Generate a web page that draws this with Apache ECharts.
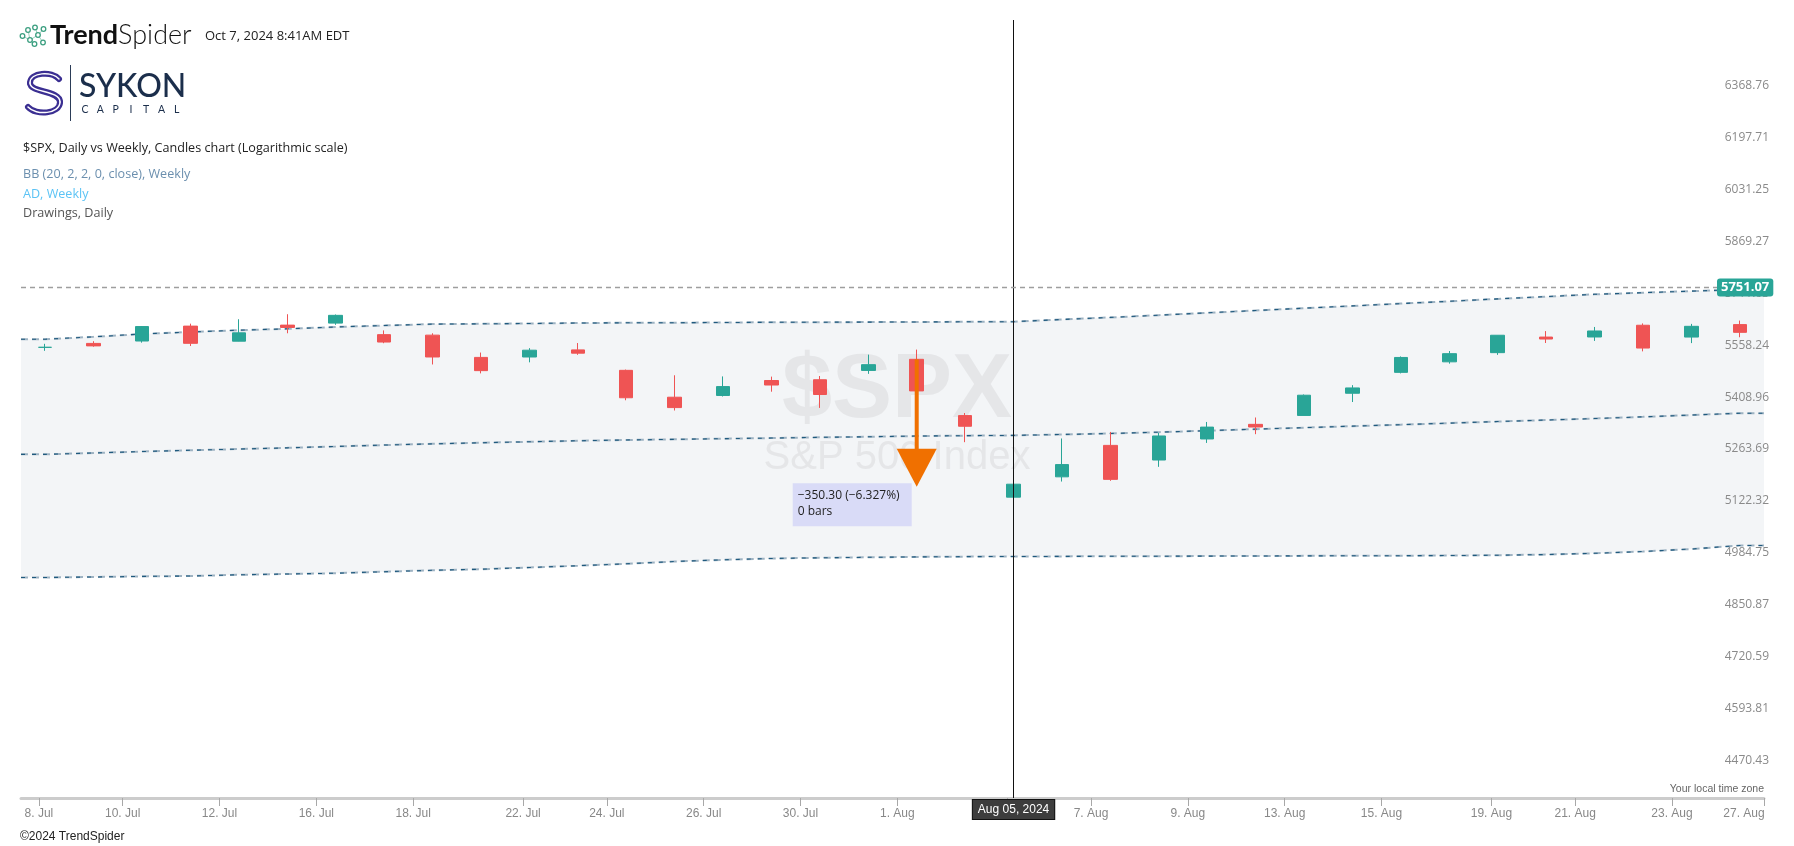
<!DOCTYPE html>
<html>
<head>
<meta charset="utf-8">
<script src="https://cdn.jsdelivr.net/npm/echarts@6/dist/echarts.min.js"></script>
<style>
html,body{margin:0;padding:0;background:#ffffff;}
#chart{width:1794px;height:846px;}
</style>
</head>
<body>
<div id="chart"></div>
<script>
// ---------- DATA ----------
const dates = ['2024-07-08','2024-07-09','2024-07-10','2024-07-11','2024-07-12','2024-07-15','2024-07-16','2024-07-17','2024-07-18','2024-07-19',
  '2024-07-22','2024-07-23','2024-07-24','2024-07-25','2024-07-26','2024-07-29','2024-07-30','2024-07-31','2024-08-01','2024-08-02',
  '2024-08-05','2024-08-06','2024-08-07','2024-08-08','2024-08-09','2024-08-12','2024-08-13','2024-08-14','2024-08-15','2024-08-16',
  '2024-08-19','2024-08-20','2024-08-21','2024-08-22','2024-08-23','2024-08-26'];
const openVals  = [5572.75,5584.24,5591.26,5635.21,5590.76,5638.16,5644.09,5610.07,5608.56,5543.37,
  5544.54,5565.30,5505.84,5428.70,5433.67,5476.55,5478.73,5505.59,5537.84,5376.63,
  5151.14,5206.42,5293.13,5252.57,5311.00,5351.88,5376.98,5440.00,5500.00,5530.50,
  5557.23,5602.88,5603.09,5637.77,5602.89,5639.66];
const highVals  = [5583.11,5590.75,5635.39,5642.45,5655.56,5670.49,5669.67,5622.49,5614.05,5557.50,
  5570.36,5585.34,5508.04,5491.59,5488.32,5487.74,5489.46,5551.51,5566.16,5383.89,
  5250.89,5312.34,5330.64,5328.03,5358.60,5371.20,5436.50,5463.22,5546.23,5561.98,
  5608.30,5620.51,5632.68,5643.22,5641.82,5651.62];
const lowVals   = [5562.51,5574.57,5586.44,5576.53,5590.44,5614.05,5639.02,5584.81,5522.81,5497.04,
  5529.04,5550.90,5419.98,5390.95,5430.70,5444.44,5398.30,5495.71,5410.42,5302.03,
  5119.26,5193.56,5195.54,5233.85,5300.00,5324.37,5376.98,5415.00,5497.00,5525.17,
  5550.74,5585.50,5591.57,5560.95,5585.16,5602.34];
const closeVals = [5572.85,5576.98,5633.91,5584.54,5615.35,5631.22,5667.20,5588.27,5544.59,5505.00,
  5564.41,5555.74,5427.13,5399.22,5459.10,5463.54,5436.44,5522.30,5446.68,5346.56,
  5186.33,5240.03,5199.50,5319.31,5344.16,5344.39,5434.43,5455.21,5543.22,5554.25,
  5608.25,5597.12,5620.85,5570.64,5634.61,5616.84];

const bbUpper  = [5596.5,5603.6,5611.9,5617.8,5623.1,5627.2,5632.6,5637.0,5641.1,5642.0,
  5642.9,5644.4,5645.0,5645.3,5645.9,5646.5,5646.8,5647.1,5647.4,5648.0,
  5648.3,5654.8,5661.0,5667.6,5674.7,5681.6,5688.4,5695.3,5702.2,5709.1,
  5716.3,5723.2,5730.1,5734.9,5739.7,5744.3];
const bbMiddle = [5268.2,5272.1,5276.0,5279.6,5282.9,5286.3,5290.1,5294.0,5297.4,5300.4,
  5303.2,5306.0,5308.2,5309.9,5311.8,5313.5,5315.5,5317.1,5319.1,5320.2,
  5321.0,5323.5,5326.3,5330.0,5334.2,5338.4,5342.6,5346.8,5351.0,5355.3,
  5359.8,5364.0,5368.2,5373.0,5378.1,5383.2];
const bbLower  = [4938.4,4939.7,4941.2,4942.3,4945.4,4947.5,4949.5,4953.4,4957.1,4959.9,
  4964.4,4969.0,4974.0,4980.0,4984.5,4987.9,4989.7,4991.0,4992.1,4992.8,
  4993.1,4993.4,4993.7,4993.9,4994.2,4994.5,4994.8,4995.0,4995.3,4995.6,
  4996.4,4998.3,5001.5,5006.2,5012.8,5022.0];

const yTickLabels = ['4470.43','4593.81','4720.59','4850.87','4984.75','5122.32','5263.69','5408.96','5558.24','5711.63','5869.27','6031.25','6197.71','6368.76'];
const xTickDates  = ['2024-07-08','2024-07-10','2024-07-12','2024-07-16','2024-07-18','2024-07-22','2024-07-24','2024-07-26','2024-07-30','2024-08-01',
  '2024-08-05','2024-08-07','2024-08-09','2024-08-13','2024-08-15','2024-08-19','2024-08-21','2024-08-23','2024-08-27'];
const xTickLabels = ['8. Jul','10. Jul','12. Jul','16. Jul','18. Jul','22. Jul','24. Jul','26. Jul','30. Jul','1. Aug',
  '5. Aug','7. Aug','9. Aug','13. Aug','15. Aug','19. Aug','21. Aug','23. Aug','27. Aug'];

const lastPrice = 5751.07;
const crosshairDate = '2024-08-05';
const crosshairLabel = 'Aug 05, 2024';
const measureDate = '2024-08-01';
const measureStart = 5537.84;
const measureEnd = 5187.54;
const measureText = ['\u2212350.30 (\u22126.327%)', '0 bars'];

const titleLines = ['$SPX, Daily vs Weekly, Candles chart (Logarithmic scale)', 'BB (20, 2, 2, 0, close), Weekly', 'AD, Weekly', 'Drawings, Daily'];
const timestampText = 'Oct 7, 2024 8:41AM EDT';

// ---------- SCALE (log) ----------
const Y_BASE = parseFloat(yTickLabels[0]);
const Y_STEP = Math.log(parseFloat(yTickLabels[yTickLabels.length - 1]) / Y_BASE) / (yTickLabels.length - 1);
const toAxis = p => Math.log(p / Y_BASE) / Y_STEP;

const UP = '#29a597', DOWN = '#ef5454';
const NARROW = '"Liberation Sans Narrow", "Arial Narrow", sans-serif';
const SANS = '"Open Sans", "Noto Sans", sans-serif';

const candleData = dates.map((d, i) => [openVals[i], closeVals[i], lowVals[i], highVals[i]].map(toAxis));

function extended(arr) {
  const pts = arr.map((v, i) => [i, toAxis(v)]);
  pts.unshift([-0.5, toAxis(arr[0])]);
  pts.push([arr.length - 0.5, toAxis(arr[arr.length - 1])]);
  return pts;
}
const lowerPts = extended(bbLower);
const upperPts = extended(bbUpper);
const middlePts = extended(bbMiddle);

const xMax = dates.length - 0.5;
const tickPos = xTickDates.map(d => {
  let i = dates.indexOf(d);
  if (i < 0) i = dates.length;
  const monday = new Date(d + 'T12:00:00Z').getUTCDay() === 1;
  return Math.min(i - (monday ? 0.13 : 0.40), xMax);
});
const tickMap = {};
tickPos.forEach((p, j) => { tickMap[p.toFixed(3)] = j; });

function bbLine(pts, color, width, dash, offset) {
  return {
    type: 'line', xAxisIndex: 1, yAxisIndex: 0, data: pts, symbol: 'none', silent: true, z: 3,
    lineStyle: { color: color, width: width, type: dash, dashOffset: offset || 0 },
    animation: false
  };
}
const bbSeries = [];
[upperPts, middlePts, lowerPts].forEach(pts => {
  bbSeries.push(bbLine(pts, '#9db2c2', 2, [7, 4], 0));
  bbSeries.push(bbLine(pts, '#1f5a7e', 1.1, [4, 7], 0));
});

// ---------- GRAPHIC (header / branding) ----------
const iconPts = [[22.5,36],[28,30],[30,40],[35,27.5],[38,35],[43.5,29],[43,42.5],[34.5,44]];
const iconLinks = [[0,2],[1,2],[2,4],[3,4],[4,5],[2,7],[4,6]];
const header = [];
iconLinks.forEach(l => header.push({ type: 'line', shape: { x1: iconPts[l[0]][0], y1: iconPts[l[0]][1], x2: iconPts[l[1]][0], y2: iconPts[l[1]][1] }, style: { stroke: '#7cc3ac', lineWidth: 0.8 }, z: 10 }));
iconPts.forEach(p => header.push({ type: 'circle', shape: { cx: p[0], cy: p[1], r: 2.3 }, style: { fill: '#fff', stroke: '#3c9f80', lineWidth: 1.3 }, z: 11 }));
header.push({ type: 'text', x: 50, y: 35.5, z: 10, style: { text: '{b|Trend}{r|Spider}', verticalAlign: 'middle', align: 'left',
  rich: { b: { fontFamily: 'Lato, sans-serif', fontSize: 27, fontWeight: 700, fill: '#111', color: '#111' }, r: { fontFamily: 'Lato, sans-serif', fontSize: 27, fontWeight: 300, fill: '#111', color: '#111' } } } });
header.push({ type: 'text', x: 205, y: 36, z: 10, style: { text: timestampText, fontFamily: SANS, fontSize: 13, fill: '#222', verticalAlign: 'middle' } });
const sSegs = [
  { x1: 59, y1: 79, cpx1: 52, cpy1: 71, cpx2: 30, cpy2: 72, x2: 30, y2: 83 },
  { x1: 30, y1: 83, cpx1: 30, cpy1: 93, cpx2: 60, cpy2: 90, x2: 60, y2: 102 },
  { x1: 60, y1: 102, cpx1: 60, cpy1: 114, cpx2: 36, cpy2: 116, x2: 28, y2: 107 }
];
sSegs.forEach(sg => header.push({ type: 'bezierCurve', z: 10, shape: sg, style: { fill: null, stroke: '#3b2f92', lineWidth: 6, lineCap: 'round' } }));
sSegs.forEach(sg => header.push({ type: 'bezierCurve', z: 11, shape: sg, style: { fill: null, stroke: '#ffffff', lineWidth: 1.5, lineCap: 'round' } }));
header.push({ type: 'line', z: 10, shape: { x1: 70.5, y1: 65, x2: 70.5, y2: 121 }, style: { stroke: '#2b3c57', lineWidth: 1 } });
header.push({ type: 'text', x: 79, y: 87, z: 10, style: { text: 'SYKON', fontFamily: 'Lato, sans-serif', fontSize: 32, fontWeight: 500, fill: '#1b2e4b', verticalAlign: 'middle' } });
'CAPITAL'.split('').forEach((ch, i) => header.push({ type: 'text', x: 85 + i * 15.3, y: 110, z: 10, style: { text: ch, fontFamily: 'Lato, sans-serif', fontSize: 10.5, fill: '#1b2e4b', align: 'center', verticalAlign: 'middle' } }));
const titleColors = ['#222222', '#6b8fae', '#5bc3f5', '#555555'];
const titleY = [148, 174.5, 194, 213.5];
titleLines.forEach((t, i) => header.push({ type: 'text', x: 23, y: titleY[i], z: 10, style: { text: t, fontFamily: SANS, fontSize: 12.6, fill: titleColors[i], verticalAlign: 'middle' } }));
header.push({ type: 'text', x: 897, y: 392, z: 2, silent: true, style: { text: '$SPX', fontFamily: '"Liberation Sans", Arial, sans-serif', fontWeight: 700, fontSize: 90, fill: '#e5e6e8', align: 'center', verticalAlign: 'middle' } });
header.push({ type: 'text', x: 897, y: 458, z: 2, silent: true, style: { text: 'S&P 500 Index', fontFamily: '"Liberation Sans", Arial, sans-serif', fontSize: 40, fill: '#e5e6e8', align: 'center', verticalAlign: 'middle' } });
header.push({ type: 'text', x: 1764, y: 795, z: 10, style: { text: 'Your local time zone', fontFamily: NARROW, fontSize: 10.5, fill: '#666', align: 'right', verticalAlign: 'bottom' } });
header.push({ type: 'text', x: 20, y: 837, z: 10, style: { text: '\u00a92024 TrendSpider', fontFamily: NARROW, fontSize: 12, fill: '#222', verticalAlign: 'middle' } });

// ---------- OPTION ----------
const option = {
  animation: false,
  backgroundColor: '#ffffff',
  grid: { left: 21, right: 30, top: 20, bottom: 48, containLabel: false },
  xAxis: [
    { type: 'category', data: dates, boundaryGap: true, show: false, gridIndex: 0 },
    { type: 'value', gridIndex: 0, min: -0.5, max: xMax, position: 'bottom',
      axisLine: { show: true, onZero: false, lineStyle: { color: '#cccccc', width: 3 } },
      axisTick: { show: true, customValues: tickPos, length: 8, lineStyle: { color: '#a8a8a8', width: 1 } },
      splitLine: { show: false },
      axisLabel: { show: true, customValues: tickPos, margin: 10, color: '#888888', fontFamily: NARROW, fontSize: 12,
        formatter: v => {
          const j = tickMap[Number(v).toFixed(3)];
          if (j == null) return '';
          return j === xTickLabels.length - 1 ? '{r|' + xTickLabels[j] + '}' : xTickLabels[j];
        },
        rich: { r: { padding: [0, 40, 0, 0], color: '#888888', fontFamily: NARROW, fontSize: 12 } } }
    }
  ],
  yAxis: [{
    type: 'value', position: 'right', min: -0.596, max: 14.409, z: 2,
    axisLine: { show: false, onZero: false }, axisTick: { show: false }, splitLine: { show: false },
    axisLabel: { show: true, inside: false, customValues: yTickLabels.map((t, i) => i), margin: 5, align: 'right',
      verticalAlign: 'bottom', lineHeight: 14, color: '#8a8a8a', fontFamily: SANS, fontSize: 12,
      formatter: v => yTickLabels[Math.round(v)] }
  }],
  graphic: { elements: header },
  series: [
    { type: 'custom', name: 'bbBand', xAxisIndex: 1, yAxisIndex: 0, z: 1, silent: true, clip: true,
      data: [[0, 0]],
      renderItem: (params, api) => {
        const pts = upperPts.map(p => api.coord(p)).concat(lowerPts.slice().reverse().map(p => api.coord(p)));
        return { type: 'polygon', shape: { points: pts }, style: { fill: '#f3f5f7' } };
      } },
    ...bbSeries,
    { type: 'line', name: 'crosshair', xAxisIndex: 0, yAxisIndex: 0, data: [], z: 3, silent: true,
      markLine: { silent: true, symbol: ['none', 'none'], animation: false,
        data: [{ xAxis: crosshairDate,
          lineStyle: { color: '#111111', width: 1, type: 'solid' },
          label: { show: true, position: 'start', distance: 2, formatter: crosshairLabel, color: '#ffffff',
            fontFamily: NARROW, fontSize: 12, backgroundColor: '#3d3d3d', borderColor: '#111', borderWidth: 1, padding: [4, 5, 3, 5] } }] } },
    { type: 'candlestick', name: '$SPX', xAxisIndex: 0, yAxisIndex: 0, data: candleData, barWidth: 14, z: 4, clip: false,
      itemStyle: { color: UP, color0: DOWN, borderColor: UP, borderColor0: DOWN, borderWidth: 1 } },
    { type: 'custom', name: 'measure', xAxisIndex: 1, yAxisIndex: 0, z: 5, clip: false, silent: true,
      data: [[dates.indexOf(measureDate), toAxis(measureStart), toAxis(measureEnd)]],
      renderItem: (params, api) => {
        const s = api.coord([api.value(0), api.value(1)]);
        const e = api.coord([api.value(0), api.value(2)]);
        const headH = 38, headW = 40, over = 3;
        const tipY = e[1] + over;
        return { type: 'group', children: [
          { type: 'rect', shape: { x: e[0] - 124, y: e[1] - 0.5, width: 119, height: 43 }, style: { fill: '#d9dbf7' } },
          { type: 'text', x: e[0] - 119, y: e[1] + 12, style: { text: measureText[0], fontFamily: SANS, fontSize: 12, fill: '#222', verticalAlign: 'middle' } },
          { type: 'text', x: e[0] - 119, y: e[1] + 27.5, style: { text: measureText[1], fontFamily: SANS, fontSize: 12, fill: '#222', verticalAlign: 'middle' } },
          { type: 'line', shape: { x1: s[0], y1: s[1], x2: s[0], y2: tipY - headH + 2 }, style: { stroke: '#f07000', lineWidth: 4 } },
          { type: 'polygon', shape: { points: [[e[0] - headW / 2, tipY - headH], [e[0] + headW / 2, tipY - headH], [e[0], tipY]] }, style: { fill: '#f07000' } }
        ] };
      } },
    { type: 'line', name: 'lastPrice', xAxisIndex: 0, yAxisIndex: 0, data: [], z: 6, silent: true,
      markLine: { silent: true, symbol: ['none', 'none'], animation: false,
        data: [{ yAxis: toAxis(lastPrice),
          lineStyle: { color: '#9e9e9e', width: 1.4, type: [5, 4] },
          label: { show: true, position: 'end', distance: -47, formatter: lastPrice.toFixed(2), color: '#ffffff',
            fontFamily: SANS, fontWeight: 700, fontSize: 13, backgroundColor: UP, borderRadius: 3, padding: [3, 4, 2, 4] } }] } }
  ]
};

const chart = echarts.init(document.getElementById('chart'), null, { renderer: 'canvas' });
chart.setOption(option);
</script>
</body>
</html>
